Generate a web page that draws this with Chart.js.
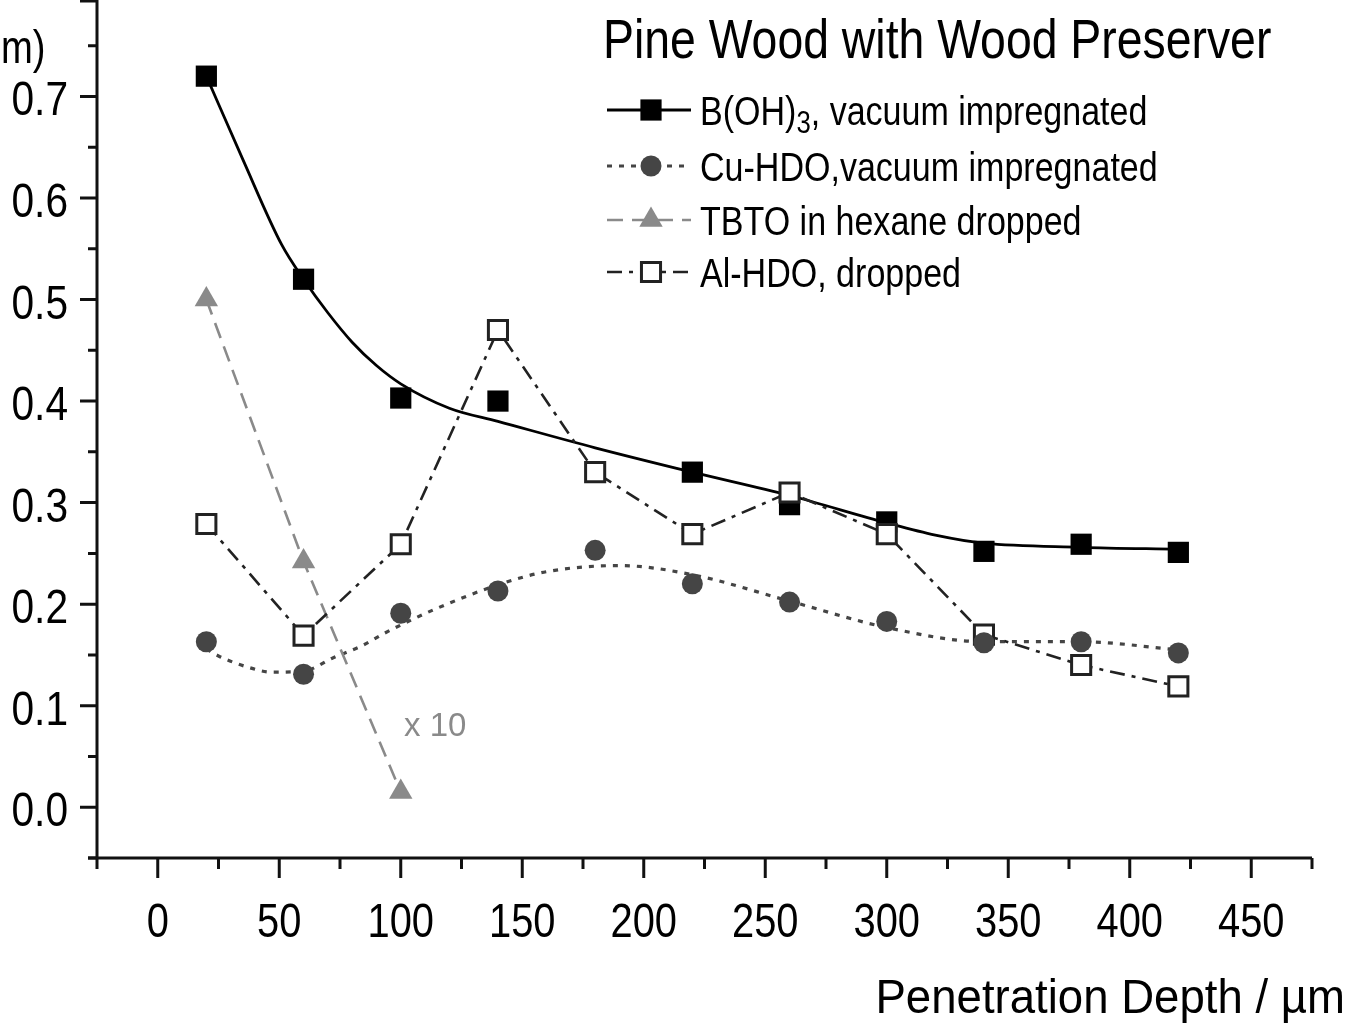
<!DOCTYPE html>
<html>
<head>
<meta charset="utf-8">
<script src="https://cdn.jsdelivr.net/npm/chart.js@4/dist/chart.umd.min.js"></script>
<style>
  html, body { margin: 0; padding: 0; background: #fff; overflow: hidden; }
  canvas { display: block; }
</style>
</head>
<body>
<canvas id="chart" width="1353" height="1026"></canvas>
<script>
// Penetration depth (µm) and measured values per preserver
const bohDepths = [20, 60, 100, 140, 220, 260, 300, 340, 380, 420];
const bohValues = [0.72, 0.52, 0.403, 0.40, 0.33, 0.298, 0.281, 0.252, 0.259, 0.251];
const bohFitDepths = [20, 35, 51, 60, 70, 80, 90, 100, 120, 140, 180, 220, 260, 300, 320, 340, 380, 420];
const bohFitValues = [0.72, 0.638, 0.554, 0.52, 0.487, 0.458, 0.435, 0.417, 0.393, 0.380, 0.354, 0.330, 0.307, 0.280, 0.268, 0.260, 0.256, 0.254];

const cuDepths = [20, 60, 100, 140, 180, 220, 260, 300, 340, 380, 420];
const cuValues = [0.163, 0.131, 0.191, 0.213, 0.253, 0.220, 0.202, 0.183, 0.162, 0.163, 0.152];
const cuFitDepths = [20, 25, 37, 47, 60, 72, 84, 93, 104, 114, 140, 160, 190, 220, 260, 300, 340, 380, 420];
const cuFitValues = [0.156, 0.149, 0.138, 0.133, 0.134, 0.147, 0.159, 0.171, 0.184, 0.195, 0.219, 0.232, 0.238, 0.229, 0.203, 0.177, 0.163, 0.163, 0.155];

const tbtoDepths = [20, 60, 100];
const tbtoValues = [0.50, 0.242, 0.015];

const alDepths = [20, 60, 100, 140, 180, 220, 260, 300, 340, 380, 420];
const alValues = [0.279, 0.169, 0.259, 0.470, 0.330, 0.269, 0.310, 0.269, 0.170, 0.140, 0.119];

// Axis ticks
const xMajorTicks = [0, 50, 100, 150, 200, 250, 300, 350, 400, 450];
const xTickLabels = ['0', '50', '100', '150', '200', '250', '300', '350', '400', '450'];
const xMinorTicks = [-25, 25, 75, 125, 175, 225, 275, 325, 375, 425, 475];
const yMajorTicks = [0, 0.1, 0.2, 0.3, 0.4, 0.5, 0.6, 0.7];
const yTickLabels = ['0.0', '0.1', '0.2', '0.3', '0.4', '0.5', '0.6', '0.7'];
const yMinorTicks = [-0.05, 0.05, 0.15, 0.25, 0.35, 0.45, 0.55, 0.65, 0.75];

const chartTitle = 'Pine Wood with Wood Preserver';
const xAxisTitle = 'Penetration Depth / µm';
const yAxisTitleTail = 'm)';
const tbtoScaleNote = 'x 10';

const FONT = '"Liberation Sans", Arial, sans-serif';

const pts = (xs, ys) => xs.map((x, i) => ({ x: x, y: ys[i] }));

const datasets = [
  { // 0
    label: 'Cu-HDO, vacuum impregnated',
    data: pts(cuDepths, cuValues),
    showLine: false,
    pointStyle: 'circle', pointRadius: 10.5,
    pointBackgroundColor: '#454545', pointBorderColor: '#454545', pointBorderWidth: 0,
    borderColor: '#454545', order: 0
  },
  { // 1
    label: 'Al-HDO, dropped',
    data: pts(alDepths, alValues),
    borderColor: '#222', borderWidth: 2.6, borderDash: [15, 7, 4, 7],
    pointStyle: 'rect', pointRadius: 13.5,
    pointBackgroundColor: '#fff', pointBorderColor: '#222', pointBorderWidth: 3,
    tension: 0, order: 1
  },
  { // 2
    label: 'TBTO in hexane dropped',
    data: pts(tbtoDepths, tbtoValues),
    borderColor: '#8a8a8a', borderWidth: 2.6, borderDash: [16, 9],
    pointStyle: 'triangle', pointRadius: 13.5,
    pointBackgroundColor: '#8a8a8a', pointBorderColor: '#8a8a8a', pointBorderWidth: 0,
    tension: 0, order: 2
  },
  { // 3
    label: 'B(OH)3, vacuum impregnated',
    data: pts(bohDepths, bohValues),
    showLine: false,
    pointStyle: 'rect', pointRadius: 15,
    pointBackgroundColor: '#000', pointBorderColor: '#000', pointBorderWidth: 0,
    borderColor: '#000', order: 3
  },
  { // 4 fitted curve for B(OH)3
    label: 'B(OH)3 fit',
    data: pts(bohFitDepths, bohFitValues),
    borderColor: '#000', borderWidth: 2.8,
    pointRadius: 0, cubicInterpolationMode: 'monotone', order: 4
  },
  { // 5 fitted curve for Cu-HDO
    label: 'Cu-HDO fit',
    data: pts(cuFitDepths, cuFitValues),
    borderColor: '#454545', borderWidth: 3.2, borderDash: [5, 7],
    pointRadius: 0, cubicInterpolationMode: 'monotone', order: 5
  }
];

// legend rows: marker dataset, line dataset, label parts [text, isSubscript]
const legendRows = [
  { marker: 3, line: 4, text: [['B(OH)', 0], ['3', 1], [', vacuum impregnated', 0]] },
  { marker: 0, line: 5, text: [['Cu-HDO,vacuum impregnated', 0]] },
  { marker: 2, line: 2, text: [['TBTO in hexane dropped', 0]] },
  { marker: 1, line: 1, text: [['Al-HDO, dropped', 0]] }
];

// condensed text: the typeface is squeezed horizontally by `squeeze`
function drawText(ctx, text, x, y, size, align, squeeze, color) {
  ctx.save();
  ctx.font = size + 'px ' + FONT;
  ctx.fillStyle = color || '#000';
  ctx.textAlign = align;
  ctx.textBaseline = 'alphabetic';
  ctx.translate(x, y);
  ctx.scale(squeeze, 1);
  ctx.fillText(text, 0, 0);
  const w = ctx.measureText(text).width * squeeze;
  ctx.restore();
  return w;
}

const decorations = {
  id: 'decorations',
  afterDraw(chart) {
    const ctx = chart.ctx;
    const xs = chart.scales.x, ys = chart.scales.y;
    const area = chart.chartArea;
    ctx.save();
    ctx.strokeStyle = '#111';
    ctx.lineWidth = 3;
    ctx.lineCap = 'butt';
    ctx.setLineDash([]);

    // axis lines
    ctx.beginPath();
    ctx.moveTo(area.left, area.top);
    ctx.lineTo(area.left, area.bottom);
    ctx.moveTo(area.left - 9, area.bottom);
    ctx.lineTo(area.right, area.bottom);
    ctx.stroke();

    // tick marks
    ctx.beginPath();
    xMajorTicks.forEach(v => { const p = xs.getPixelForValue(v); ctx.moveTo(p, area.bottom); ctx.lineTo(p, area.bottom + 20); });
    xMinorTicks.forEach(v => { const p = xs.getPixelForValue(v); ctx.moveTo(p, area.bottom); ctx.lineTo(p, area.bottom + 11); });
    yMajorTicks.forEach(v => { const p = ys.getPixelForValue(v); ctx.moveTo(area.left, p); ctx.lineTo(area.left - 17, p); });
    yMinorTicks.forEach(v => { const p = ys.getPixelForValue(v); ctx.moveTo(area.left, p); ctx.lineTo(area.left - 9, p); });
    ctx.moveTo(area.left, area.top + 1); ctx.lineTo(area.left - 17, area.top + 1);
    ctx.stroke();
    ctx.restore();

    // tick labels
    xMajorTicks.forEach((v, i) => drawText(ctx, xTickLabels[i], xs.getPixelForValue(v), area.bottom + 79, 48, 'center', 0.83));
    yMajorTicks.forEach((v, i) => drawText(ctx, yTickLabels[i], 68, ys.getPixelForValue(v) + 19, 49, 'right', 0.83));

    // title and axis titles
    drawText(ctx, chartTitle, 603, 58, 56, 'left', 0.828);
    drawText(ctx, yAxisTitleTail, 1, 63, 46, 'left', 0.83);
    drawText(ctx, xAxisTitle, 1345, 1013, 49, 'right', 0.93);

    // scale note for TBTO
    drawText(ctx, tbtoScaleNote, 404, 736, 33, 'left', 1, '#8a8a8a');

    // legend
    const rowY = [110, 166, 220, 272];
    legendRows.forEach((row, i) => {
      const y = rowY[i];
      const ln = chart.data.datasets[row.line];
      const mk = chart.data.datasets[row.marker];
      ctx.save();
      ctx.strokeStyle = ln.borderColor;
      ctx.lineWidth = ln.borderWidth || 2.6;
      ctx.setLineDash(ln.borderDash || []);
      ctx.beginPath();
      ctx.moveTo(607, y);
      ctx.lineTo(691, y);
      ctx.stroke();
      ctx.setLineDash([]);
      ctx.fillStyle = mk.pointBackgroundColor;
      ctx.strokeStyle = mk.pointBorderColor;
      ctx.lineWidth = mk.pointBorderWidth;
      Chart.helpers.drawPoint(ctx, {
        pointStyle: mk.pointStyle,
        radius: mk.pointRadius,
        borderWidth: mk.pointBorderWidth,
        rotation: 0
      }, 651, y);
      ctx.restore();

      let tx = 700;
      row.text.forEach(([t, sub]) => {
        tx += drawText(ctx, t, tx, y + 15 + (sub ? 8 : 0), sub ? 31 : 41, 'left', 0.83);
      });
    });
  }
};

new Chart(document.getElementById('chart'), {
  type: 'line',
  data: { datasets: datasets },
  options: {
    responsive: false,
    animation: false,
    devicePixelRatio: 1,
    layout: { autoPadding: false, padding: { top: 0, right: 41, bottom: 0, left: 0 } },
    plugins: { legend: { display: false }, tooltip: { enabled: false }, title: { display: false } },
    elements: { line: { fill: false }, point: { hoverRadius: 0 } },
    datasets: { line: { clip: false } },
    scales: {
      x: {
        type: 'linear', min: -25, max: 475,
        grid: { display: false, drawTicks: false },
        border: { display: false },
        afterBuildTicks: s => { s.ticks = xMajorTicks.map(v => ({ value: v })); },
        afterFit: s => { s.height = 168; s.paddingLeft = 0; s.paddingRight = 0; },
        ticks: { display: false }
      },
      y: {
        type: 'linear', min: -0.05, max: 0.795,
        grid: { display: false, drawTicks: false },
        border: { display: false },
        afterBuildTicks: s => { s.ticks = yMajorTicks.map(v => ({ value: v })); },
        afterFit: s => { s.width = 97; s.paddingTop = 0; s.paddingBottom = 0; },
        ticks: { display: false }
      }
    }
  },
  plugins: [decorations]
});
</script>
</body>
</html>
